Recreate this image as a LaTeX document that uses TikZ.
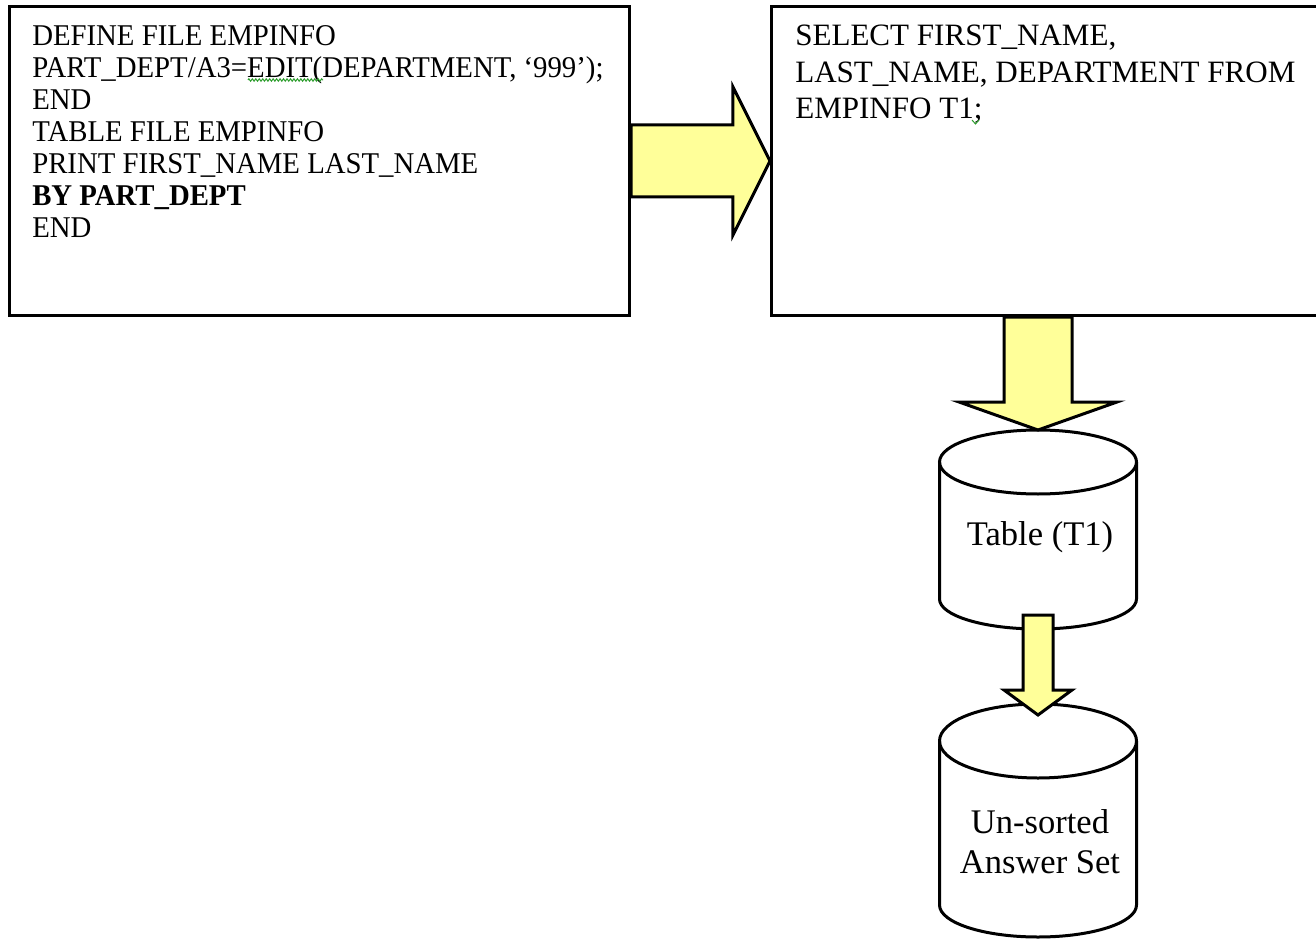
\documentclass[tikz,border=0pt]{standalone}
\usepackage{fontspec}
\setmainfont{Liberation Serif}
\usetikzlibrary{calc,decorations.pathmorphing}
\definecolor{arrowfill}{HTML}{FFFF99}
\definecolor{spellgreen}{HTML}{2E9E2E}
\begin{document}
\begin{tikzpicture}[x=0.75pt,y=-0.75pt,
  codebox/.style={draw=black, line width=2.25pt, fill=white, inner sep=0pt},
  blockarrow/.style={draw=black, line width=2.25pt, fill=arrowfill, line join=miter},
  cyl/.style={draw=black, line width=2.25pt},
  codetext/.style={anchor=north west, inner sep=0pt, font=\fontsize{22.6}{24}\selectfont},
  sqltext/.style={anchor=north west, inner sep=0pt, align=left, font=\fontsize{23.3}{27.3}\selectfont},
  cyltext/.style={inner sep=0pt, align=center, font=\fontsize{25.9}{30}\selectfont},
  squiggle/.style={draw=spellgreen, line width=0.75pt, decorate, decoration={zigzag, amplitude=0.9pt, segment length=2.6pt}}]
\useasboundingbox (0,0) rectangle (1316,941);
\fill[white] (0,0) rectangle (1316,941);

% boxes
\node[codebox, minimum width=465pt, minimum height=231.75pt] (code) at (319.5,161) {};
\node[codebox, minimum width=426.4pt, minimum height=231.75pt] (sql) at (1055.75,161) {};

\node[codetext] (codetxt) at (32,22.6) {\scalebox{0.955}[1]{\begin{tabular}{@{}l@{}}DEFINE FILE EMPINFO\\
PART\_DEPT/A3=EDIT(DEPARTMENT, ‘999’);\\
END\\
TABLE FILE EMPINFO\\
PRINT FIRST\_NAME LAST\_NAME\\
\textbf{BY PART\_DEPT}\\
END\end{tabular}}};
\node[sqltext] (sqltxt) at (795,25) {SELECT FIRST\_NAME,\\
LAST\_NAME, DEPARTMENT FROM\\
EMPINFO T1;};

% spell-check marks
\coordinate (sq1a) at (248,80);
\coordinate (sq1b) at (323,80);
\draw[squiggle] (sq1a) -- (sq1b);
\coordinate (sq2a) at (972,120);
\coordinate (sq2b) at (979,120);
\draw[spellgreen, line width=0.75pt] (sq2a) -- (975.5,124) -- (sq2b);

% cylinder 1
\coordinate (t1top) at (1038,430);
\coordinate (t1bot) at (1038,629);
\draw[cyl, fill=white] (939.5,462) -- (939.5,599) arc[start angle=180, end angle=0, x radius=98.5, y radius=30] -- (1136.5,462);
\draw[cyl] (1038,462) ellipse [x radius=98.5, y radius=32];
\node[cyltext] (t1) at (1040,537) {Table (T1)};

% cylinder 2
\coordinate (anstop) at (1038,704);
\draw[cyl, fill=white] (939.5,741) -- (939.5,905) arc[start angle=180, end angle=0, x radius=98.5, y radius=32] -- (1136.5,741);
\draw[cyl] (1038,741) ellipse [x radius=98.5, y radius=37];
\node[cyltext] (ans) at (1040,842) {Un-sorted\\Answer Set};

% arrow: code -> sql
\draw[blockarrow] ($(code.east)+(0,-36)$) -- ($(sql.west)+(-37,-36)$) -- ($(sql.west)+(-37,-74)$)
  -- (sql.west) -- ($(sql.west)+(-37,74)$) -- ($(sql.west)+(-37,36)$) -- ($(code.east)+(0,36)$) -- cycle;

% arrow: sql -> table
\coordinate (a2s) at (t1top |- sql.south);
\draw[blockarrow] ($(a2s)+(-34,0)$) -- ($(t1top)+(-34,-28)$) -- ($(t1top)+(-79,-28)$) -- (t1top)
  -- ($(t1top)+(79,-28)$) -- ($(t1top)+(34,-28)$) -- ($(a2s)+(34,0)$) -- cycle;

% arrow: table -> answer set
\coordinate (a3s) at ($(t1bot)+(0,-14)$);
\coordinate (a3e) at ($(anstop)+(0,11)$);
\draw[blockarrow] ($(a3s)+(-15,0)$) -- ($(a3e)+(-15,-25)$) -- ($(a3e)+(-34,-25)$) -- (a3e)
  -- ($(a3e)+(34,-25)$) -- ($(a3e)+(15,-25)$) -- ($(a3s)+(15,0)$) -- cycle;
\end{tikzpicture}
\end{document}
